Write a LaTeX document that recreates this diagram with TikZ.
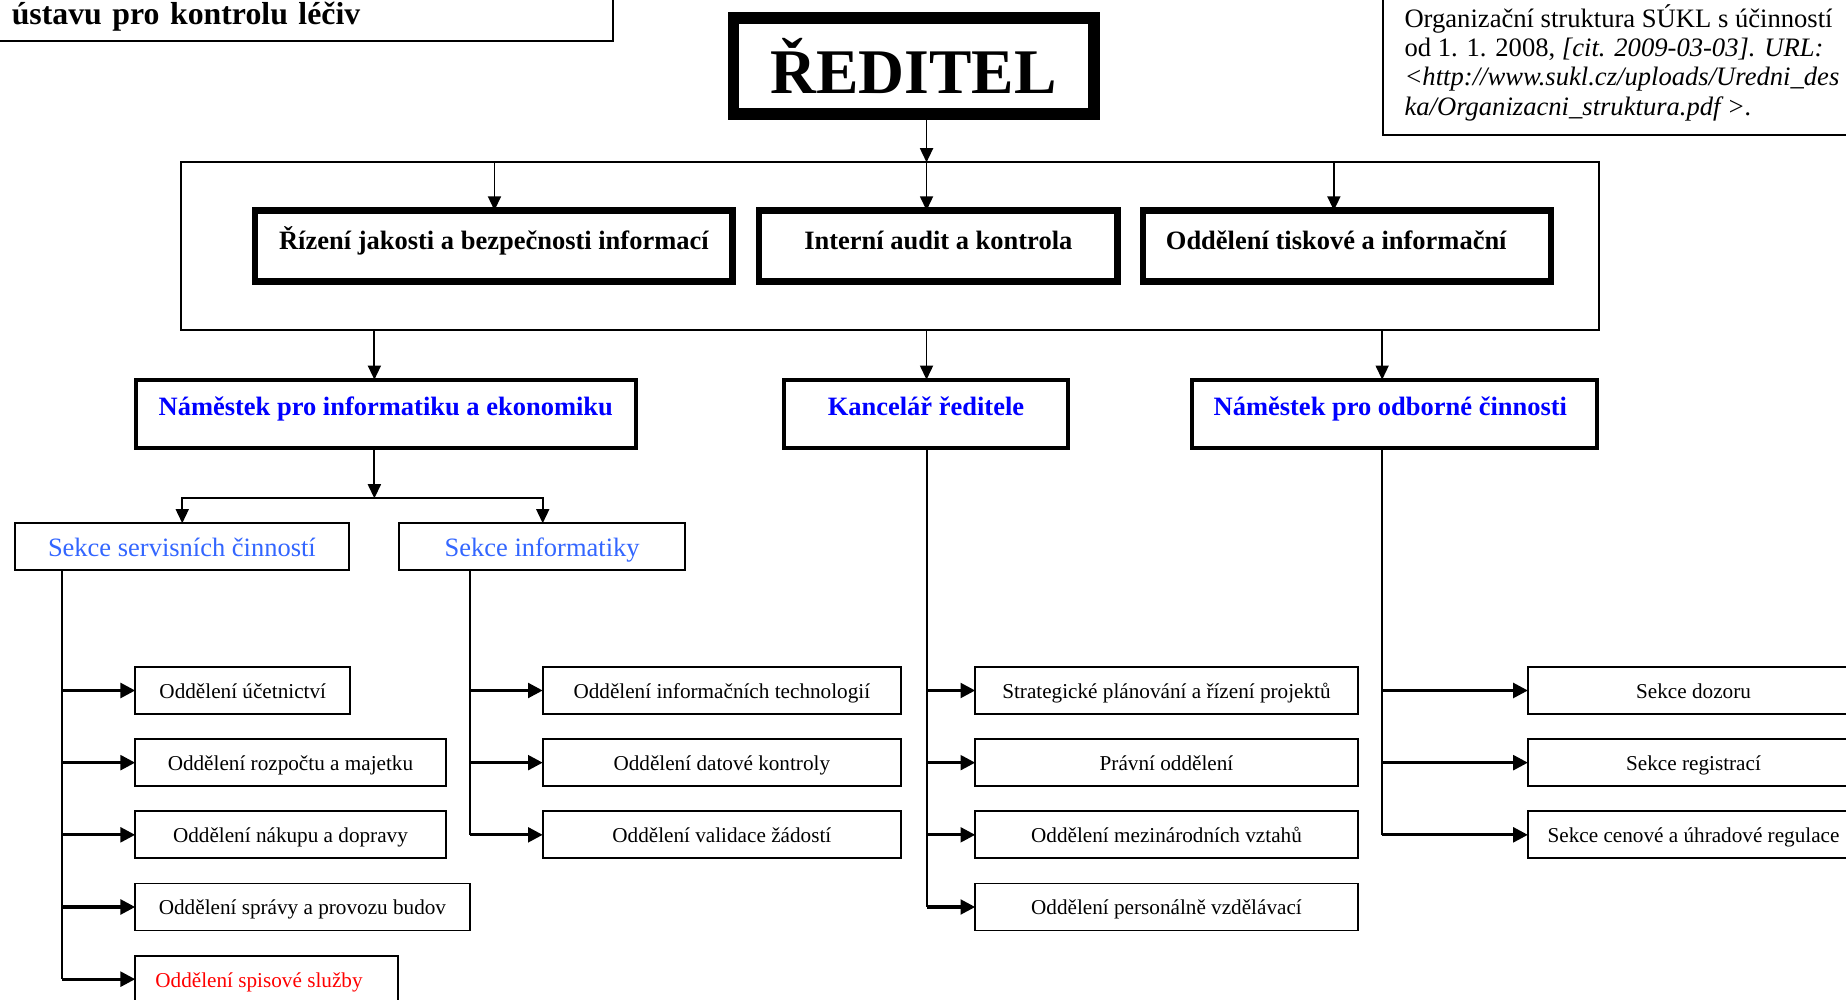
\documentclass[tikz,border=0pt]{standalone}
\usepackage{fontspec}
\setmainfont{Liberation Serif}
\usetikzlibrary{arrows.meta}
\definecolor{nblue}{RGB}{0,0,255}
\definecolor{sblue}{RGB}{51,102,255}
\definecolor{sred}{RGB}{255,0,0}
\begin{document}
\begin{tikzpicture}[x=1pt,y=-1pt,
  every node/.style={inner sep=0pt, outer sep=0pt},
  dirbox/.style={draw, line width=10pt, minimum width=306pt, minimum height=82pt,
    font=\bfseries\fontsize{54}{60}\selectfont, text height=48pt, text depth=1.4pt},
  staffbox/.style={draw, line width=5.5pt, minimum height=60.5pt,
    font=\bfseries\fontsize{22.5}{26}\selectfont, text height=10pt, text depth=4pt},
  framebox/.style={draw, line width=1.6pt},
  nambox/.style={draw, line width=3.4pt, minimum height=58pt, text=nblue,
    font=\bfseries\fontsize{22.5}{26}\selectfont, text height=9pt, text depth=7pt},
  sekbox/.style={draw, line width=1.6pt, minimum height=39.5pt, text=sblue,
    font=\fontsize{22.5}{26}\selectfont, text height=17.6pt, text depth=1pt},
  unitbox/.style={draw, line width=1.6pt, minimum height=40pt,
    font=\fontsize{18}{21}\selectfont, text height=14pt, text depth=0.6pt},
  varr/.style={-{Triangle[length=12pt,width=11pt]}, line width=1.6pt},
  barr/.style={-{Triangle[length=12.5pt,width=12.5pt]}, line width=2.6pt},
  trunk/.style={line width=1.7pt},
]
\useasboundingbox (0,0) rectangle (1568,849);
\fill[white] (0,0) rectangle (1568,849);
\clip (0,0) rectangle (1568,849);

% header boxes
\node[draw, line width=1.6pt, text width=481pt, align=left, inner xsep=30pt, inner ysep=4.3pt,
  anchor=base west, font=\bfseries\fontsize{27}{30}\selectfont] (tl) at (-20,21.2)
  {ústavu pro kontrolu léčiv\strut};
\node[draw, line width=1.6pt, align=left, inner xsep=18pt, inner ysep=9.5pt,
  anchor=south west, font=\fontsize{22.6}{25}\selectfont] (ref) at (1175,115)
  {\rule{0pt}{28pt}Organizační struktura SÚKL s účinností\\
   od 1. 1. 2008, \textit{[cit. 2009-03-03]. URL:}\\
   \textit{<http://www.sukl.cz/uploads/Uredni\_des}\\
   \textit{ka/Organizacni\_struktura.pdf >.}\strut\hspace*{60pt}};

% director and staff
\node[dirbox] (dir) at (776,56) {ŘEDITEL};
\node[framebox, minimum width=1204.2pt, minimum height=142.4pt] (staff) at (755.9,209.1) {};
\node[staffbox, minimum width=405.5pt] (rj) at (419.5,209) {Řízení jakosti a bezpečnosti informací};
\node[staffbox, minimum width=304.5pt] (ia) at (797,209) {Interní audit a kontrola};
\node[staffbox, minimum width=346.5pt] (ot) at (1144,209) {Oddělení tiskové a informační\hspace*{18pt}};

% deputies
\node[nambox, minimum width=425pt] (ni) at (327.7,351.5) {Náměstek pro informatiku a ekonomiku};
\node[nambox, minimum width=241.6pt] (kr) at (786.5,351.5) {Kancelář ředitele};
\node[nambox, minimum width=344pt] (no) at (1184.5,351.5) {Náměstek pro odborné činnosti\hspace*{7pt}};

% sections
\node[sekbox, minimum width=283.4pt] (sv) at (154.5,464.2) {Sekce servisních činností};
\node[sekbox, minimum width=243.4pt] (si) at (460.5,464.2) {Sekce informatiky};

% units
\node[unitbox, minimum width=182.7pt] (u1) at (206.2,586.5) {Oddělení účetnictví};
\node[unitbox, minimum width=263.8pt] (u2) at (246.7,647.8) {Oddělení rozpočtu a majetku};
\node[unitbox, minimum width=263.8pt] (u3) at (246.7,709.1) {Oddělení nákupu a dopravy};
\node[unitbox, minimum width=284.1pt] (u4) at (256.9,770.4) {Oddělení správy a provozu budov};
\node[unitbox, minimum width=222.9pt, text=sred] (u5) at (226.3,831.7) {Oddělení spisové služby\hspace*{12.6pt}};

\node[unitbox, minimum width=304.2pt] (i1) at (613.1,586.5) {Oddělení informačních technologií};
\node[unitbox, minimum width=304.2pt] (i2) at (613.1,647.8) {Oddělení datové kontroly};
\node[unitbox, minimum width=304.2pt] (i3) at (613.1,709.1) {Oddělení validace žádostí};

\node[unitbox, minimum width=324.9pt] (k1) at (990.8,586.5) {Strategické plánování a řízení projektů};
\node[unitbox, minimum width=324.9pt] (k2) at (990.8,647.8) {Právní oddělení};
\node[unitbox, minimum width=324.9pt] (k3) at (990.8,709.1) {Oddělení mezinárodních vztahů};
\node[unitbox, minimum width=324.9pt] (k4) at (990.8,770.4) {Oddělení personálně vzdělávací};

\node[unitbox, minimum width=281.4pt] (o1) at (1438.5,586.5) {Sekce dozoru};
\node[unitbox, minimum width=281.4pt] (o2) at (1438.5,647.8) {Sekce registrací};
\node[unitbox, minimum width=281.4pt] (o3) at (1438.5,709.1) {Sekce cenové a úhradové regulace};

% connector x positions
\coordinate (s787) at (787,0);
\coordinate (s420) at (420,0);
\coordinate (s1133) at (1133,0);
\coordinate (b318) at (318,0);
\coordinate (b1174) at (1174,0);
\coordinate (tL) at (52.7,0);
\coordinate (tI) at (399,0);
\coordinate (jn) at (318,423.3);
\coordinate (jl) at (154.8,423.3);
\coordinate (jr) at (461,423.3);

% top connectors
\draw[varr] (dir.south -| s787) -- (staff.north -| s787);
\draw[varr] (staff.north -| s420) -- (rj.north -| s420);
\draw[varr] (staff.north -| s787) -- (ia.north -| s787);
\draw[varr] (staff.north -| s1133) -- (ot.north -| s1133);
\draw[varr] (staff.south -| b318) -- (ni.north -| b318);
\draw[varr] (staff.south -| s787) -- (kr.north -| s787);
\draw[varr] (staff.south -| b1174) -- (no.north -| b1174);

% split to sections
\draw[varr] (ni.south -| jn) -- (jn);
\draw[trunk, line cap=rect] (jl) -- (jr);
\draw[varr] (jl) -- (sv.north -| jl);
\draw[varr] (jr) -- (si.north -| jr);

% trees
\draw[trunk] (sv.south -| tL) -- (u5.west -| tL);
\foreach \n in {u1,u2,u3,u4,u5} \draw[barr] (\n.west -| tL) -- (\n.west);
\draw[trunk] (si.south -| tI) -- (i3.west -| tI);
\foreach \n in {i1,i2,i3} \draw[barr] (\n.west -| tI) -- (\n.west);
\draw[trunk] (kr.south -| s787) -- (k4.west -| s787);
\foreach \n in {k1,k2,k3,k4} \draw[barr] (\n.west -| s787) -- (\n.west);
\draw[trunk] (no.south -| b1174) -- (o3.west -| b1174);
\foreach \n in {o1,o2,o3} \draw[barr] (\n.west -| b1174) -- (\n.west);
\end{tikzpicture}
\end{document}
